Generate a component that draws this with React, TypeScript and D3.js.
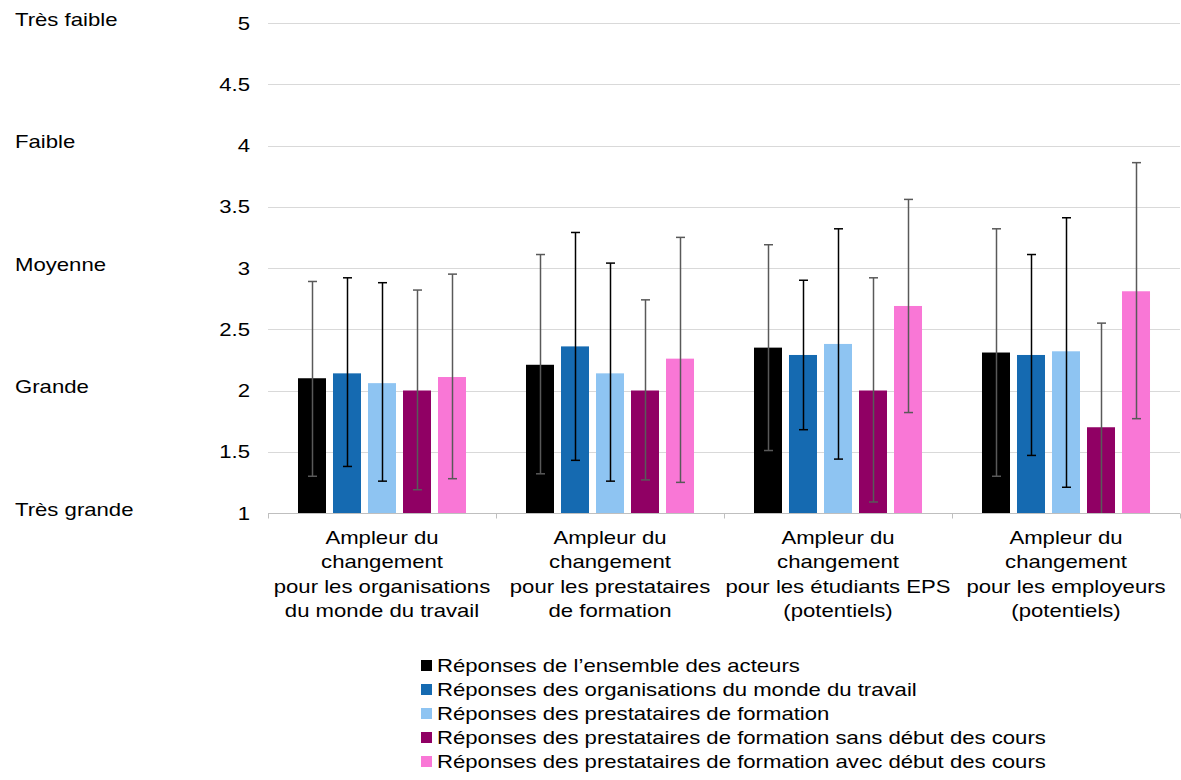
import { useEffect, useRef } from 'react';
import * as d3 from 'd3';

const categories = [
  ['Ampleur du', 'changement', 'pour les organisations', 'du monde du travail'],
  ['Ampleur du', 'changement', 'pour les prestataires', 'de formation'],
  ['Ampleur du', 'changement', 'pour les étudiants EPS', '(potentiels)'],
  ['Ampleur du', 'changement', 'pour les employeurs', '(potentiels)'],
];

const seriesNames = [
  'Réponses de l’ensemble des acteurs',
  'Réponses des organisations du monde du travail',
  'Réponses des prestataires de formation',
  'Réponses des prestataires de formation sans début des cours',
  'Réponses des prestataires de formation avec début des cours',
];

const seriesColors = ['#000000', '#156ab1', '#8ec4f2', '#900064', '#f977d6'];
const errorColors = ['#595959', '#000000', '#000000', '#595959', '#595959'];

// moyenne par série, une valeur par catégorie
const meanAll = [2.1, 2.21, 2.35, 2.31];
const meanOrg = [2.14, 2.36, 2.29, 2.29];
const meanPrest = [2.06, 2.14, 2.38, 2.32];
const meanSans = [2.0, 2.0, 2.0, 1.7];
const meanAvec = [2.11, 2.26, 2.69, 2.81];

// bornes des barres d'erreur
const highAll = [2.89, 3.11, 3.19, 3.32];
const lowAll = [1.3, 1.32, 1.51, 1.3];
const highOrg = [2.92, 3.29, 2.9, 3.11];
const lowOrg = [1.38, 1.43, 1.68, 1.47];
const highPrest = [2.88, 3.04, 3.32, 3.41];
const lowPrest = [1.26, 1.26, 1.44, 1.21];
const highSans = [2.82, 2.74, 2.92, 2.55];
const lowSans = [1.19, 1.27, 1.09, 0.85];
const highAvec = [2.95, 3.25, 3.56, 3.86];
const lowAvec = [1.28, 1.25, 1.82, 1.77];

const means = [meanAll, meanOrg, meanPrest, meanSans, meanAvec];
const highs = [highAll, highOrg, highPrest, highSans, highAvec];
const lows = [lowAll, lowOrg, lowPrest, lowSans, lowAvec];

const yTicks = [1, 1.5, 2, 2.5, 3, 3.5, 4, 4.5, 5];
const levelLabels = ['Très grande', 'Grande', 'Moyenne', 'Faible', 'Très faible'];
const levelValues = [1, 2, 3, 4, 5];

const FONT = 'Liberation Sans, Arial, sans-serif';
const FS = 18.6;
const SX = 1.19; // le texte de l'original est un peu étiré en largeur

export default function App() {
  const svgRef = useRef<SVGSVGElement>(null);

  useEffect(() => {
    const svg = d3.select(svgRef.current);
    svg.selectAll('*').remove();

    const left = 268;
    const right = 1180;
    const top = 23;
    const bottom = 513;

    const y = d3.scaleLinear().domain([1, 5]).range([bottom, top]);
    const x0 = d3
      .scaleBand<number>()
      .domain(d3.range(categories.length))
      .range([left, right]);
    const x1 = d3
      .scaleBand<number>()
      .domain(d3.range(seriesNames.length))
      .range([0, x0.bandwidth()])
      .paddingInner(0.2)
      .paddingOuter(0.857);

    const stretch = (x: number, yy: number) => `translate(${x},${yy}) scale(${SX},1)`;

    // grille
    svg
      .append('g')
      .selectAll('line')
      .data(yTicks.slice(1))
      .enter()
      .append('line')
      .attr('x1', left)
      .attr('x2', right)
      .attr('y1', d => Math.round(y(d)) + 0.5)
      .attr('y2', d => Math.round(y(d)) + 0.5)
      .attr('stroke', '#d9d9d9')
      .attr('stroke-width', 1);

    // libellés de l'axe y
    svg
      .append('g')
      .selectAll('text')
      .data(yTicks)
      .enter()
      .append('text')
      .attr('transform', d => stretch(250, y(d)))
      .attr('dy', '0.35em')
      .attr('text-anchor', 'end')
      .style('font-family', FONT)
      .style('font-size', FS + 'px')
      .style('fill', '#000')
      .text(d => String(d));

    svg
      .append('g')
      .selectAll('text')
      .data(levelValues)
      .enter()
      .append('text')
      .attr('transform', d => stretch(15, y(d) - 4))
      .attr('dy', '0.35em')
      .style('font-family', FONT)
      .style('font-size', FS + 'px')
      .style('fill', '#000')
      .text((d, i) => levelLabels[i]);

    // barres
    const groups = svg
      .append('g')
      .selectAll('g')
      .data(categories)
      .enter()
      .append('g')
      .attr('transform', (d, i) => `translate(${x0(i)},0)`);

    groups.each(function (_, ci) {
      const g = d3.select(this);
      seriesNames.forEach((_, si) => {
        const v = means[si][ci];
        g.append('rect')
          .attr('x', x1(si)!)
          .attr('y', y(v))
          .attr('width', x1.bandwidth())
          .attr('height', y(1) - y(v))
          .attr('fill', seriesColors[si]);
      });
      seriesNames.forEach((_, si) => {
        const cx = Math.round(x1(si)! + x1.bandwidth() / 2) + 0.5;
        const hi = highs[si][ci];
        const lo = lows[si][ci];
        const yLo = y(Math.max(lo, 1));
        const col = errorColors[si];
        g.append('line')
          .attr('x1', cx)
          .attr('x2', cx)
          .attr('y1', y(hi))
          .attr('y2', yLo)
          .attr('stroke', col)
          .attr('stroke-width', 1.5);
        g.append('line')
          .attr('x1', cx - 4.5)
          .attr('x2', cx + 4.5)
          .attr('y1', y(hi))
          .attr('y2', y(hi))
          .attr('stroke', col)
          .attr('stroke-width', 1.5);
        if (lo >= 1) {
          g.append('line')
            .attr('x1', cx - 4.5)
            .attr('x2', cx + 4.5)
            .attr('y1', yLo)
            .attr('y2', yLo)
            .attr('stroke', col)
            .attr('stroke-width', 1.5);
        }
      });
    });

    // axe x
    const axisY = Math.round(y(1)) + 0.5;
    svg
      .append('line')
      .attr('x1', left)
      .attr('x2', right)
      .attr('y1', axisY)
      .attr('y2', axisY)
      .attr('stroke', '#bfbfbf');
    svg
      .append('g')
      .selectAll('line')
      .data(d3.range(categories.length + 1))
      .enter()
      .append('line')
      .attr('x1', i => Math.round(left + i * x0.step()) + 0.5)
      .attr('x2', i => Math.round(left + i * x0.step()) + 0.5)
      .attr('y1', axisY)
      .attr('y2', axisY + 5)
      .attr('stroke', '#bfbfbf');

    // libellés des catégories
    groups
      .append('text')
      .attr('transform', stretch(x0.bandwidth() / 2, 0))
      .attr('text-anchor', 'middle')
      .style('font-family', FONT)
      .style('font-size', FS + 'px')
      .style('fill', '#000')
      .selectAll('tspan')
      .data(d => d)
      .enter()
      .append('tspan')
      .attr('x', 0)
      .attr('y', (d, i) => 544 + i * 24.5)
      .text(d => d);

    // légende
    const legend = svg
      .append('g')
      .selectAll('g')
      .data(seriesNames)
      .enter()
      .append('g')
      .attr('transform', (d, i) => `translate(421, ${665 + i * 24})`);

    legend
      .append('rect')
      .attr('x', 0)
      .attr('y', -5)
      .attr('width', 11)
      .attr('height', 11)
      .attr('fill', (d, i) => seriesColors[i]);

    legend
      .append('text')
      .attr('transform', stretch(16, 0))
      .attr('dy', '0.35em')
      .style('font-family', FONT)
      .style('font-size', FS + 'px')
      .style('fill', '#000')
      .text(d => d);
  }, []);

  return (
    <svg
      ref={svgRef}
      width={1181}
      height={780}
      style={{ position: 'absolute', left: 0, top: 0, background: '#fff' }}
    ></svg>
  );
}
